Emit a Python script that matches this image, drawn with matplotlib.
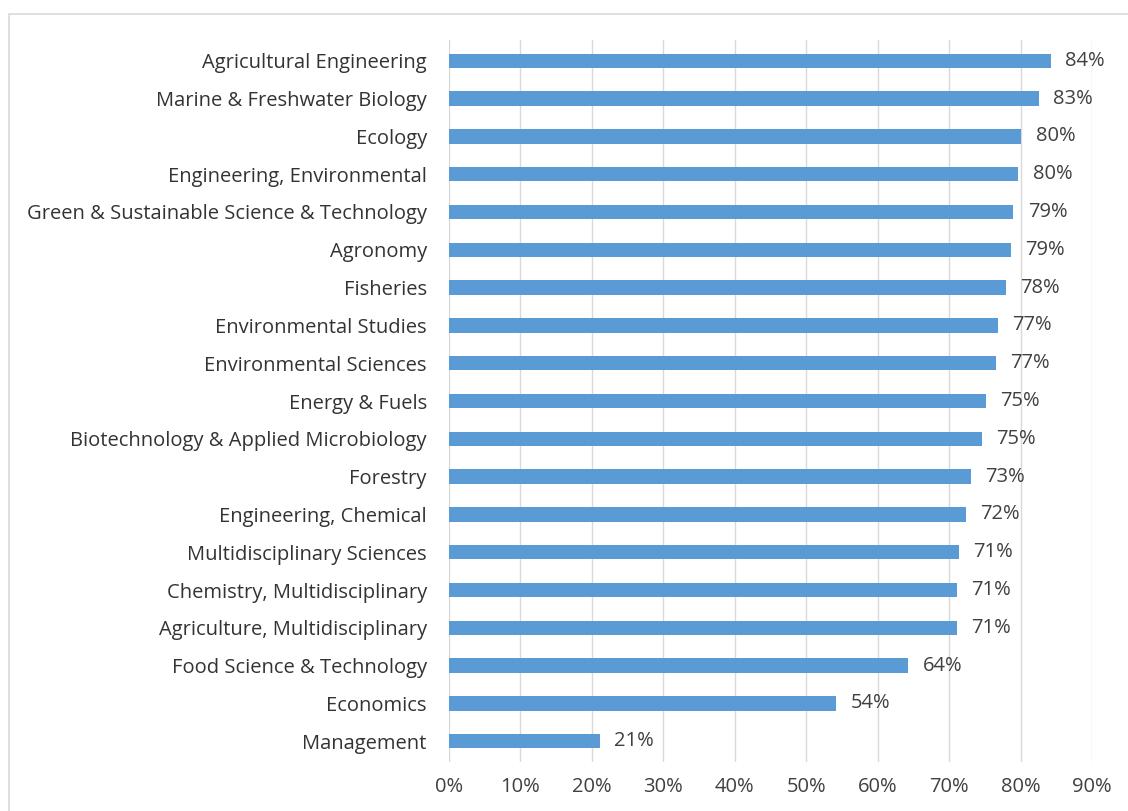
import numpy as np
import matplotlib.pyplot as plt
from matplotlib.patches import Rectangle

# Data (top to bottom)
categories = ['Agricultural Engineering', 'Marine & Freshwater Biology', 'Ecology',
              'Engineering, Environmental', 'Green & Sustainable Science & Technology',
              'Agronomy', 'Fisheries', 'Environmental Studies', 'Environmental Sciences',
              'Energy & Fuels', 'Biotechnology & Applied Microbiology', 'Forestry',
              'Engineering, Chemical', 'Multidisciplinary Sciences',
              'Chemistry, Multidisciplinary', 'Agriculture, Multidisciplinary',
              'Food Science & Technology', 'Economics', 'Management']
values = [84.2, 82.6, 80.1, 79.7, 79.0, 78.7, 78.0, 76.8, 76.6, 75.2, 74.6, 73.0,
          72.4, 71.4, 71.1, 71.1, 64.3, 54.2, 21.1]
xticks = [0, 10, 20, 30, 40, 50, 60, 70, 80, 90]

plt.rcParams['font.family'] = ['Open Sans', 'DejaVu Sans']

fig = plt.figure(figsize=(11.28, 8.11), dpi=100)
ax = fig.add_axes([449 / 1128, 1 - 762 / 811, (1092 - 449) / 1128, (762 - 40) / 811])

# Chart border (only left/top visible in the crop)
fig.patches.append(Rectangle((9 / 1128, -0.1), 1.2, 1 - 14 / 811 + 0.1,
                             transform=fig.transFigure, fill=False,
                             edgecolor='#d9d9d9', linewidth=1.2))

y = np.arange(len(categories))
ax.barh(y, values, height=0.38, color='#5b9bd5', zorder=3)
for yi, v in zip(y, values):
    ax.text(v + 2.0, yi, f'{v:.0f}%', va='center', ha='left', fontsize=14.5, color='#404040')

ax.set_xlim(0, 90)
ax.set_ylim(len(categories) - 0.45, -0.55)
ax.set_xticks(xticks)
ax.set_xticklabels([f'{t}%' for t in xticks], fontsize=14.5, color='#404040')
ax.set_yticks(y)
ax.set_yticklabels(categories, fontsize=14.5, color='#333333')
ax.tick_params(length=0, axis='y', pad=16)
ax.tick_params(length=0, axis='x', pad=11)
ax.grid(axis='x', color='#d9d9d9', linewidth=1, zorder=0)
for s in ax.spines.values():
    s.set_visible(False)

plt.savefig('out.png', dpi=100)
